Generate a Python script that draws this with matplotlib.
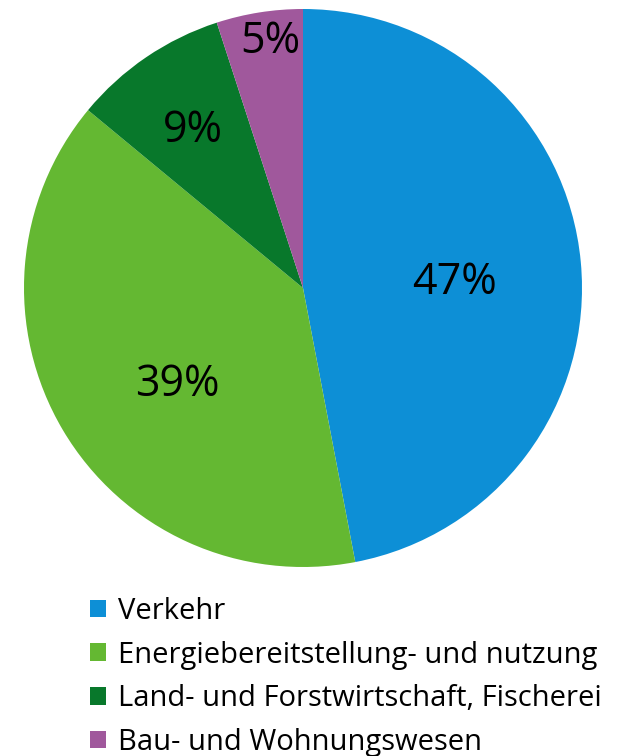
import numpy as np
import matplotlib
matplotlib.use("Agg")
import matplotlib.pyplot as plt

labels = ["Verkehr", "Energiebereitstellung- und nutzung",
          "Land- und Forstwirtschaft, Fischerei", "Bau- und Wohnungswesen"]
shares = [47, 39, 9, 5]
colors = ["#0d8fd6", "#64b832", "#08782b", "#a0589c"]
# label placement: radial distance and angle tweak (deg) relative to wedge middle
label_dist = [0.543, 0.568, 0.689, 0.89]
label_turn = [-3.5, 7.0, 0.9, -1.4]

plt.rcParams["font.family"] = ["Open Sans", "DejaVu Sans"]

fig = plt.figure(figsize=(6.28, 7.56), dpi=100)
ax = fig.add_axes([23 / 628, 1 - 567 / 756, 560 / 628, 558 / 756])
wedges, texts, autotexts = ax.pie(
    shares, colors=colors, startangle=90, counterclock=False,
    autopct="%d%%", radius=1, wedgeprops=dict(linewidth=0),
    textprops=dict(fontsize=31, color="black"))
for w, t, d, turn in zip(wedges, autotexts, label_dist, label_turn):
    ang = np.deg2rad((w.theta1 + w.theta2) / 2 + turn)
    t.set_position((d * np.cos(ang), d * np.sin(ang)))
ax.set_xlim(-1, 1)
ax.set_ylim(-1, 1)

fig.legend(wedges, labels, loc="upper left", bbox_to_anchor=(90 / 628, 1 - 597 / 756),
           frameon=False, fontsize=21, handlelength=0.55, handleheight=0.55,
           handletextpad=0.42, labelspacing=0.5, borderaxespad=0, borderpad=0)

fig.savefig("out.png", dpi=100)
